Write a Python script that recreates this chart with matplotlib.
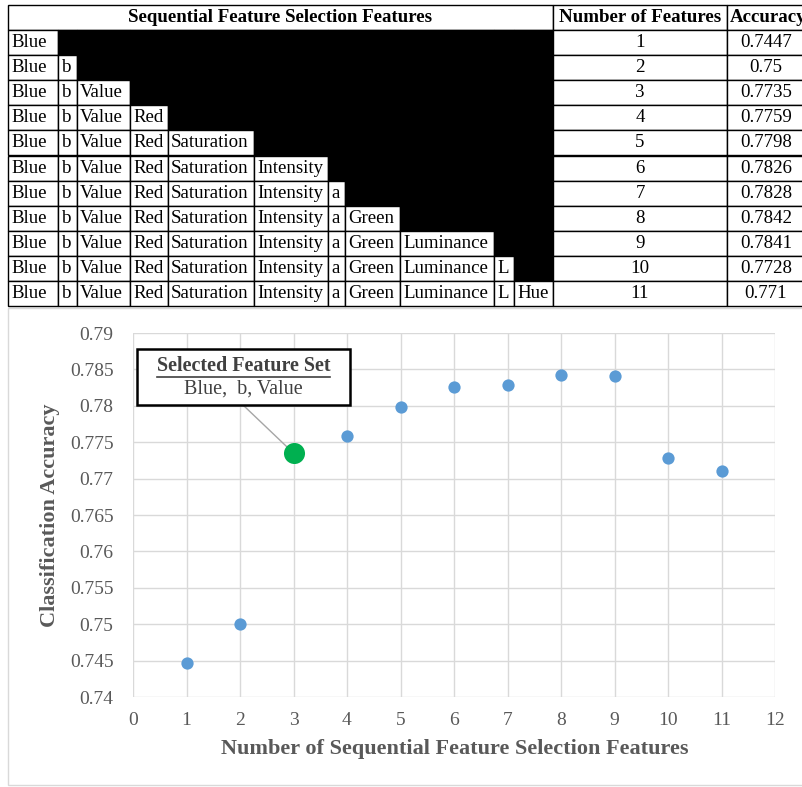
import matplotlib
matplotlib.use("Agg")
from matplotlib import pyplot as plt
from matplotlib.patches import Rectangle, ConnectionPatch

# data
features = ["Blue", "b", "Value", "Red", "Saturation", "Intensity", "a",
            "Green", "Luminance", "L", "Hue"]
num_features = [1, 2, 3, 4, 5, 6, 7, 8, 9, 10, 11]
accuracy = [0.7447, 0.75, 0.7735, 0.7759, 0.7798, 0.7826, 0.7828,
            0.7842, 0.7841, 0.7728, 0.771]
selected = 3
selected_names = "Blue,  b, Value"
x_ticks = [0, 1, 2, 3, 4, 5, 6, 7, 8, 9, 10, 11, 12]
y_ticks = [0.74, 0.745, 0.75, 0.755, 0.76, 0.765, 0.77, 0.775, 0.78, 0.785, 0.79]

plt.rcParams['font.family'] = ['Liberation Serif', 'DejaVu Serif']

W, H = 802, 787
fig = plt.figure(figsize=(W / 100, H / 100), dpi=100)

# table, drawn in pixel coordinates
bg = fig.add_axes([0, 0, 1, 1])
bg.set_xlim(0, W)
bg.set_ylim(H, 0)
bg.axis('off')

col_x = [8, 58, 77, 130, 168, 254, 328, 345, 400, 494, 514, 553]
num_col = (553, 727)
acc_col = (727, 815)
head_top, row_top, row_h = 5, 30, 25.1
fs = 13.6

# chart frame
bg.add_patch(Rectangle((8, 308), 800, 477, fill=False, ec='#d9d9d9', lw=1))

def cell(x0, x1, y0, h, fc='white'):
    bg.add_patch(Rectangle((x0, y0), x1 - x0, h, fc=fc, ec='black', lw=1))

cell(col_x[0], col_x[-1], head_top, row_top - head_top)
cell(*num_col, head_top, row_top - head_top)
cell(*acc_col, head_top, row_top - head_top)
hy = (head_top + row_top) / 2
bg.text((col_x[0] + col_x[-1]) / 2, hy, "Sequential Feature Selection Features",
        ha='center', va='center', fontsize=fs, fontweight='bold')
bg.text(sum(num_col) / 2, hy, "Number of Features", ha='center', va='center',
        fontsize=fs, fontweight='bold')
bg.text(acc_col[0] + 3, hy, "Accuracy", ha='left', va='center',
        fontsize=fs, fontweight='bold')

for r in range(len(num_features)):
    y0 = row_top + r * row_h
    yc = y0 + row_h / 2
    for c, name in enumerate(features):
        if c <= r:
            cell(col_x[c], col_x[c + 1], y0, row_h)
            bg.text(col_x[c] + 3, yc, name, ha='left', va='center', fontsize=fs)
        else:
            cell(col_x[c], col_x[c + 1], y0, row_h, fc='black')
    cell(*num_col, y0, row_h)
    cell(*acc_col, y0, row_h)
    bg.text(sum(num_col) / 2, yc, str(num_features[r]), ha='center', va='center', fontsize=fs)
    bg.text(766, yc, f"{accuracy[r]:g}", ha='center', va='center', fontsize=fs)

# scatter chart
ax = fig.add_axes([133 / W, 1 - 697 / H, 642 / W, 364 / H])
ax.set_facecolor('none')
xs = [n for n in num_features if n != selected]
ys = [a for n, a in zip(num_features, accuracy) if n != selected]
ax.scatter(xs, ys, s=78, color='#5b9bd5', zorder=3, linewidths=0)
sel_acc = accuracy[num_features.index(selected)]
ax.scatter([selected], [sel_acc], s=230, color='#00b050', zorder=4, linewidths=0)

ax.set_xlim(0, 12)
ax.set_ylim(0.74, 0.79)
ax.set_xticks(x_ticks)
ax.set_yticks(y_ticks)
ax.set_yticklabels([f"{v:g}" for v in y_ticks])
ax.grid(True, color='#d9d9d9', lw=1)
ax.set_axisbelow(True)
for s in ax.spines.values():
    s.set_visible(False)
ax.tick_params(length=0, labelsize=14, colors='#595959')
ax.tick_params(axis='y', pad=14)
ax.tick_params(axis='x', pad=11)

ax.set_xlabel("Number of Sequential Feature Selection Features", fontsize=16,
              fontweight='bold', color='#595959')
ax.set_ylabel("Classification Accuracy", fontsize=16, fontweight='bold', color='#595959')
ax.xaxis.set_label_coords((455 - 133) / 642, (697 - 749) / 364)
ax.xaxis.label.set_va('center')
ax.yaxis.set_label_coords((50 - 133) / 642, (697 - 515) / 364)
ax.yaxis.label.set_va('center')

# callout box
ov = fig.add_axes([0, 0, 1, 1])
ov.set_xlim(0, W)
ov.set_ylim(H, 0)
ov.axis('off')
ov.set_facecolor('none')

con = ConnectionPatch(xyA=(243, 405), coordsA=ov.transData,
                      xyB=(selected, sel_acc), coordsB=ax.transData,
                      color='#a6a6a6', lw=1, zorder=2)
ax.add_artist(con)

ov.add_patch(Rectangle((137, 349), 213, 56, fc='white', ec='black', lw=1.8))
t = ov.text(243.5, 366, "Selected Feature Set", ha='center', va='center',
            fontsize=14.5, fontweight='bold', color='#404040')
ov.text(243.5, 389, selected_names, ha='center', va='center', fontsize=14.5, color='#404040')
fig.canvas.draw()
bb = t.get_window_extent(fig.canvas.get_renderer())
x0 = bb.x0 / fig.dpi * 100
x1 = bb.x1 / fig.dpi * 100
ov.plot([x0, x1], [377, 377], color='#404040', lw=1.2)

fig.savefig("out.png", dpi=100)
